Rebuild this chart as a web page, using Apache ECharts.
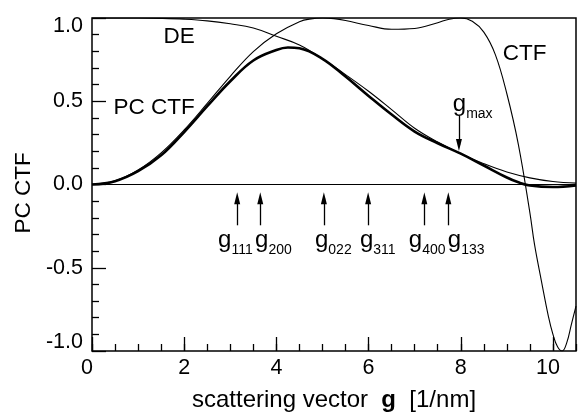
<!DOCTYPE html>
<html><head><meta charset="utf-8">
<script src="https://cdn.jsdelivr.net/npm/echarts@6/dist/echarts.min.js"></script>
<style>html,body{margin:0;padding:0;background:#fff}#c{width:578px;height:413px}</style>
</head><body><div id="c"></div>
<script>
// ---------- data ----------
const gCTF = [0, 0.5, 1, 1.5, 2, 2.5, 3, 3.5, 4, 4.5, 4.75, 5, 5.25, 5.5, 6, 6.5, 7, 7.5, 7.75, 8, 8.25, 8.5, 8.75, 9, 9.25, 9.5, 9.6, 9.75, 9.9, 10, 10.1, 10.2, 10.3, 10.4, 10.5];
const ctfVals = [0, 0.022, 0.087, 0.19, 0.328, 0.487, 0.65, 0.798, 0.905, 0.978, 0.995, 1.0, 0.996, 0.985, 0.955, 0.932, 0.937, 0.972, 0.993, 1.0, 0.98, 0.915, 0.78, 0.545, 0.24, -0.17, -0.36, -0.58, -0.79, -0.9, -0.975, -1.0, -0.95, -0.84, -0.73];

const gDE = [0, 0.5, 1, 1.5, 2, 2.5, 3, 3.5, 4, 4.5, 5, 5.5, 6, 6.5, 7, 7.5, 8, 8.5, 9, 9.5, 10, 10.5];
const deVals = [1.0, 1.0, 1.0, 0.998, 0.993, 0.983, 0.965, 0.94, 0.89, 0.838, 0.755, 0.66, 0.56, 0.45, 0.338, 0.255, 0.185, 0.125, 0.075, 0.04, 0.018, 0.008];

const gPC = [0, 0.5, 1, 1.5, 2, 2.5, 3, 3.5, 4, 4.25, 4.5, 5, 5.5, 6, 6.5, 7, 7.5, 8, 8.5, 9, 9.25, 9.5, 10, 10.5];
const pcVals = [0, 0.02, 0.08, 0.175, 0.315, 0.47, 0.62, 0.745, 0.808, 0.823, 0.818, 0.755, 0.648, 0.532, 0.42, 0.318, 0.248, 0.185, 0.114, 0.042, 0.013, -0.006, -0.015, -0.006];

// reflections marked by arrows
const reflG = [3.15, 3.65, 5.03, 5.99, 7.21, 7.73];
const reflIdx = ['111', '200', '022', '311', '400', '133'];
const gMax = 7.96;

// axis tick labels
const xTickLabels = ['0', '2', '4', '6', '8', '10'];
const yTickLabels = ['-1.0', '-0.5', '0.0', '0.5', '1.0'];

// ---------- annotation placement (data space) ----------
const reflLabelG = [2.736, 3.538, 4.837, 5.812, 6.874, 7.719];
const reflLabelV = -0.334;
const reflArrowV = [-0.245, -0.083];
const gMaxArrowV = [0.413, 0.237];
const gMaxLabel = [7.827, 0.48];
const curveLabels = [['DE', 1.891, 0.89], ['PC CTF', 1.35, 0.459], ['CTF', 9.387, 0.788]];

const FONT = '"Liberation Sans", Arial, Helvetica, sans-serif';
const zip = (a, b) => a.map((x, i) => [x, b[i]]);
const plain = { textBorderWidth: 0, textShadowBlur: 0, opacity: 1 };

const subRich = {
  g: Object.assign({ fontSize: 24, lineHeight: 24, verticalAlign: 'top', fontFamily: FONT, color: '#000' }, plain),
  s: Object.assign({ fontSize: 14, lineHeight: 14, verticalAlign: 'top', padding: [15, 0, 0, 0], fontFamily: FONT, color: '#000' }, plain)
};

const chart = echarts.init(document.getElementById('c'), null, { renderer: 'canvas' });
chart.setOption({
  animation: false,
  backgroundColor: '#fff',
  grid: {
    left: 92, right: 2, top: 18, bottom: 62, show: true, borderColor: '#000', borderWidth: 1.5,
    backgroundColor: 'transparent', containLabel: false, outerBoundsMode: 'none'
  },
  xAxis: [
    {
      type: 'value', min: 0, max: 10.5, interval: 2,
      axisLine: { show: false, onZero: false },
      splitLine: { show: false },
      axisTick: { inside: true, length: 14, lineStyle: { color: '#000', width: 1.3 } },
      axisLabel: {
        margin: 6, color: '#000', fontSize: 21.5, fontFamily: FONT,
        showMaxLabel: false,
        formatter: v => {
          const i = Math.round(v / 2);
          const t = xTickLabels[i];
          if (v === 0 || v === 10) return '{e|' + t + '}';
          return t;
        },
        rich: { e: { fontSize: 21.5, fontFamily: FONT, color: '#000', padding: [0, 10, 0, 0] } }
      },
      name: 'scattering vector  {b|g}  [1/nm]',
      nameLocation: 'middle', nameGap: 37,
      nameTextStyle: {
        fontSize: 24, fontFamily: FONT, color: '#000',
        rich: { b: { fontSize: 24, fontFamily: FONT, fontWeight: 'bold', color: '#000' } }
      }
    },
    {
      type: 'value', min: 0, max: 10.5, interval: 0.5, gridIndex: 0, position: 'bottom',
      axisLine: { show: false, onZero: false }, splitLine: { show: false },
      axisLabel: { show: false },
      axisTick: { inside: true, length: 7, lineStyle: { color: '#000', width: 1.3 } }
    }
  ],
  yAxis: {
    type: 'value', min: -1, max: 1, interval: 0.5,
    axisLine: { show: false, onZero: false },
    splitLine: { show: false },
    axisTick: { inside: true, length: 14, lineStyle: { color: '#000', width: 1.3 } },
    minorTick: { show: true, splitNumber: 5, length: 7, lineStyle: { color: '#000', width: 1.3 } },
    axisLabel: {
      margin: 9, color: '#000', fontSize: 21.5, fontFamily: FONT,
      formatter: v => {
        const t = yTickLabels[Math.round((v + 1) / 0.5)];
        if (v === 1) return '{t|' + t + '}';
        if (v === -1) return '{b|' + t + '}';
        return t;
      },
      rich: {
        t: { fontSize: 21.5, fontFamily: FONT, color: '#000', padding: [16, 0, 0, 0] },
        b: { fontSize: 21.5, fontFamily: FONT, color: '#000', padding: [0, 0, 18, 0] }
      }
    },
    name: 'PC CTF', nameLocation: 'middle', nameGap: 55, nameRotate: 90,
    nameTextStyle: { fontSize: 22.5, fontFamily: FONT, color: '#000', padding: [0, 17, 0, 0] }
  },
  series: [
    {
      name: 'DE', type: 'line', data: zip(gDE, deVals), smooth: 0.4, symbol: 'none',
      lineStyle: { color: '#000', width: 1.1 }, z: 3,
      markLine: {
        silent: true, symbol: 'none', label: { show: false },
        lineStyle: { color: '#000', width: 1.1, type: 'solid' },
        data: [{ yAxis: 0 }]
      }
    },
    {
      name: 'CTF', type: 'line', data: zip(gCTF, ctfVals), smooth: 0.4, symbol: 'none',
      lineStyle: { color: '#000', width: 1.1 }, z: 3
    },
    {
      name: 'PC CTF', type: 'line', data: zip(gPC, pcVals), smooth: 0.4, symbol: 'none',
      lineStyle: { color: '#000', width: 2.6 }, z: 4
    },
    {
      name: 'arrows', type: 'line', data: [], symbol: 'none',
      markLine: {
        silent: true, animation: false, label: { show: false },
        symbol: ['none', 'triangle'], symbolSize: [6, 12],
        itemStyle: { color: '#000' },
        lineStyle: { color: '#000', width: 1.3, type: 'solid' },
        data: reflG.map(g => [{ coord: [g, reflArrowV[0]] }, { coord: [g, reflArrowV[1]] }])
          .concat([[{ coord: [gMax, gMaxArrowV[0]] }, { coord: [gMax, gMaxArrowV[1]] }]])
      }
    },
    {
      name: 'reflLabels', type: 'scatter', symbolSize: 0, silent: true,
      itemStyle: { color: '#000' },
      data: reflLabelG.map((g, i) => ({ value: [g, reflLabelV], lbl: '{g|g}{s|' + reflIdx[i] + '}' }))
        .concat([{ value: gMaxLabel, lbl: '{g|g}{s|max}' }]),
      label: Object.assign({
        show: true, position: 'right', distance: 0, color: '#000',
        formatter: p => p.data.lbl, rich: subRich
      }, plain)
    },
    {
      name: 'curveLabels', type: 'scatter', symbolSize: 0, silent: true,
      itemStyle: { color: '#000' },
      data: curveLabels.map(c => ({ value: [c[1], c[2]], lbl: c[0] })),
      label: Object.assign({
        show: true, position: 'inside', formatter: p => p.data.lbl,
        fontSize: 22.5, fontFamily: FONT, color: '#000'
      }, plain)
    }
  ]
});
</script>
</body></html>
